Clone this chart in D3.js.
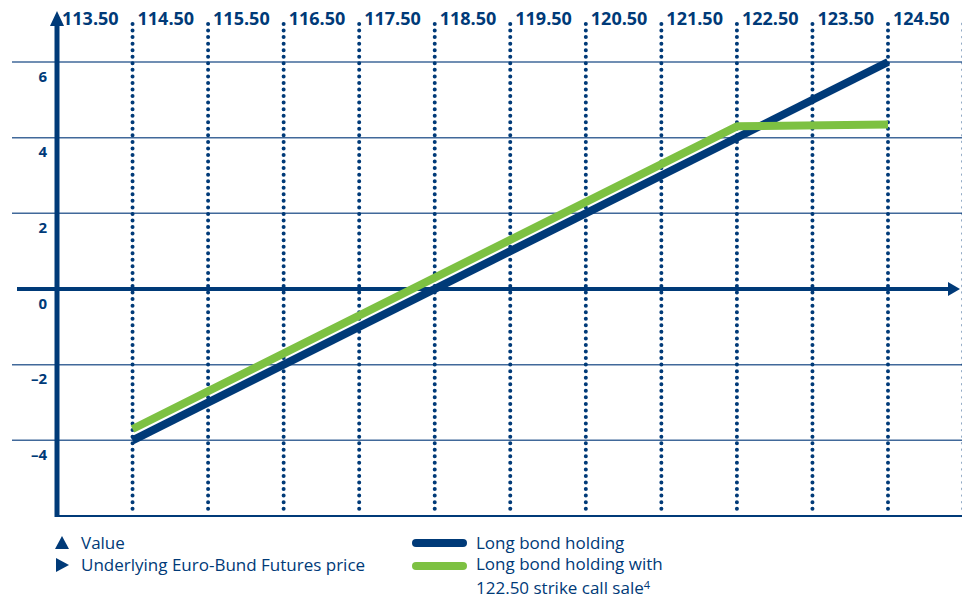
<!DOCTYPE html>
<html><head><meta charset="utf-8">
<script src="https://cdn.jsdelivr.net/npm/d3@7"></script>
<style>body{margin:0;background:#fff}svg{display:block}</style>
</head><body>
<script>
const priceTicks = [113.5,114.5,115.5,116.5,117.5,118.5,119.5,120.5,121.5,122.5,123.5,124.5];
const priceLabels = ["113.50","114.50","115.50","116.50","117.50","118.50","119.50","120.50","121.50","122.50","123.50","124.50"];
const dottedPrices = [114.5,115.5,116.5,117.5,118.5,119.5,120.5,121.5,122.5,123.5,124.5,125.5];
const valueTicks = [6,4,2,0,-2,-4];
const valueLabels = ["6","4","2","0","–2","–4"];
const longBondPrice = [114.5,124.5];
const longBondValue = [-4,6];
const callSalePrice = [114.5,122.5,124.5];
const callSaleValue = [-3.7,4.3,4.35];
const legendLeft = ["Value","Underlying Euro-Bund Futures price"];
const legendRight = ["Long bond holding","Long bond holding with"];

const W=962,H=599;
const navy="#003a78", green="#7dc142", grid="#41699a";
const svg=d3.select("body").append("svg").attr("width",W).attr("height",H);
const x=d3.scaleLinear().domain([113.5,124.5]).range([57,888]);
const y=d3.scaleLinear().domain([-6,6]).range([516,62]);
const font="'Open Sans', sans-serif";

// horizontal gridlines
svg.append("g").selectAll("line").data(valueTicks.filter(v=>v!==0)).join("line")
  .attr("x1",12).attr("x2",W).attr("y1",d=>y(d)).attr("y2",d=>y(d))
  .attr("stroke",grid).attr("stroke-width",1.5);

// dotted verticals
svg.append("g").selectAll("line").data(dottedPrices).join("line")
  .attr("x1",d=>x(d)).attr("x2",d=>x(d)).attr("y1",24).attr("y2",512)
  .attr("stroke",navy).attr("stroke-width",4).attr("stroke-linecap","round")
  .attr("stroke-dasharray","0 6.55");

// bottom frame line
svg.append("line").attr("x1",57).attr("x2",W).attr("y1",516).attr("y2",516)
  .attr("stroke",navy).attr("stroke-width",2);

// zero line with arrow
svg.append("line").attr("x1",17).attr("x2",948).attr("y1",y(0)).attr("y2",y(0))
  .attr("stroke",navy).attr("stroke-width",4);
svg.append("path").attr("d",`M${948},${y(0)-7}L${960},${y(0)}L${948},${y(0)+7}Z`).attr("fill",navy);

// y axis with arrow
svg.append("line").attr("x1",x(113.5)).attr("x2",x(113.5)).attr("y1",24).attr("y2",517)
  .attr("stroke",navy).attr("stroke-width",5);
svg.append("path").attr("d",`M${x(113.5)-7},${26}L${x(113.5)},${11}L${x(113.5)+7},${26}Z`).attr("fill",navy);

// top labels
svg.append("g").selectAll("text").data(priceTicks).join("text")
  .attr("x",d=>x(d)+5).attr("y",25).text((d,i)=>priceLabels[i])
  .attr("fill",navy).attr("font-family",font).attr("font-weight",700).attr("font-size",18);

// y labels
svg.append("g").selectAll("text").data(valueTicks).join("text")
  .attr("x",47).attr("y",d=>y(d)+19.5).attr("text-anchor","end").text((d,i)=>valueLabels[i])
  .attr("fill",navy).attr("font-family",font).attr("font-weight",700).attr("font-size",15);

// lines
const line=d3.line().x(d=>x(d[0])).y(d=>y(d[1]));
svg.append("path").datum(longBondPrice.map((p,i)=>[p,longBondValue[i]])).attr("d",line)
  .attr("fill","none").attr("stroke",navy).attr("stroke-width",8);
svg.append("path").datum(callSalePrice.map((p,i)=>[p,callSaleValue[i]])).attr("d",line)
  .attr("fill","none").attr("stroke",green).attr("stroke-width",8).attr("stroke-linejoin","round");

// legend
const lf={fill:navy,"font-family":font,"font-size":17};
function txt(xp,yp,t){const e=svg.append("text").attr("x",xp).attr("y",yp).text(t);for(const k in lf)e.attr(k,lf[k]);return e;}
svg.append("path").attr("d","M55,549L62,536L69,549Z").attr("fill",navy);
svg.append("path").attr("d","M56,558L69,565L56,572Z").attr("fill",navy);
txt(81,549,legendLeft[0]);
txt(81,571,legendLeft[1]);
svg.append("line").attr("x1",416).attr("x2",463).attr("y1",543).attr("y2",543).attr("stroke",navy).attr("stroke-width",8).attr("stroke-linecap","round");
svg.append("line").attr("x1",416).attr("x2",463).attr("y1",566).attr("y2",566).attr("stroke",green).attr("stroke-width",8).attr("stroke-linecap","round");
txt(476,549,legendRight[0]);
txt(476,570,legendRight[1]);
const t3=txt(476,594,"122.50 strike call sale");
t3.append("tspan").attr("dy",-5).attr("font-size",11).text("4");
</script>
</body></html>
